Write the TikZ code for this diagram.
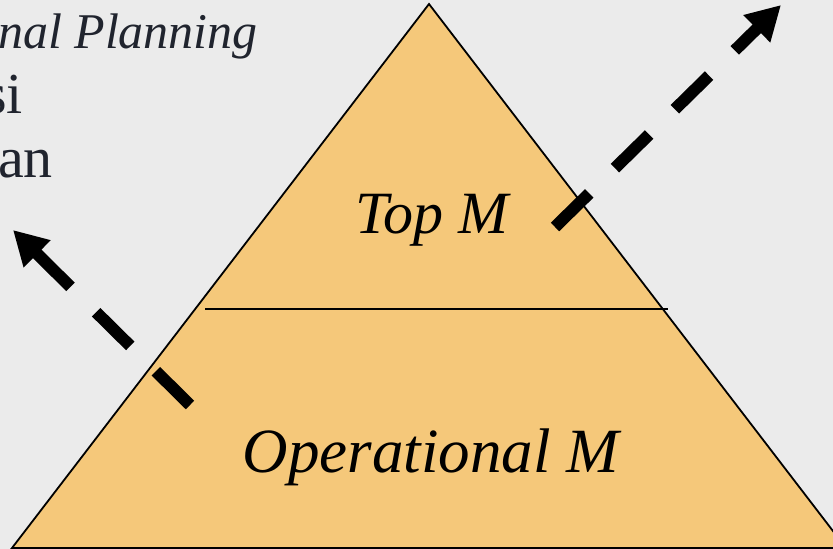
\documentclass[tikz,border=0pt]{standalone}
\usepackage{fontspec}
\setmainfont{Liberation Serif}
\usetikzlibrary{arrows.meta}
\definecolor{bgray}{RGB}{235,235,235}
\definecolor{pyr}{RGB}{245,200,122}
\definecolor{ink}{RGB}{32,36,46}
\tikzset{
  dasharrow/.style={line width=12pt, dash pattern=on 48pt off 36pt,
    -{Triangle[length=34pt,width=36pt]}},
  pyrlabel/.style={font=\itshape\fontsize{60}{66}\selectfont, anchor=base, inner sep=0pt},
  sidetext/.style={text=ink, anchor=base east, inner sep=0pt},
}
\begin{document}
\begin{tikzpicture}[x=1pt,y=-1pt]
\clip (0,0) rectangle (833,549);
\fill[bgray] (0,0) rectangle (833,549);
% pyramid
\coordinate (apex) at (429,4);
\coordinate (bl) at (12,548);
\coordinate (br) at (846,548);
\coordinate (hl) at (205,309);
\coordinate (hr) at (668,309);
\filldraw[fill=pyr, draw=black, line width=1.8pt, line join=miter] (apex) -- (bl) -- (br) -- cycle;
\draw[line width=2pt] (hl) -- (hr);
% labels
\node[pyrlabel] (top) at (432,233) {Top M};
\node[pyrlabel, font=\itshape\fontsize{63}{69}\selectfont] (ops) at (431,472) {Operational M};
% side text
\node[sidetext, font=\itshape\fontsize{50}{55}\selectfont] (t1) at (258,48) {nal Planning};
\node[sidetext, font=\fontsize{58}{64}\selectfont] (t2) at (23,113) {si};
\node[sidetext, font=\fontsize{58}{64}\selectfont] (t3) at (53,177) {an};
% arrows
\coordinate (ra) at (555,227);
\coordinate (rb) at (781,5);
\coordinate (la) at (190,405);
\coordinate (lb) at (13,230);
\draw[dasharrow] (ra) -- (rb);
\draw[dasharrow] (la) -- (lb);
\end{tikzpicture}
\end{document}
